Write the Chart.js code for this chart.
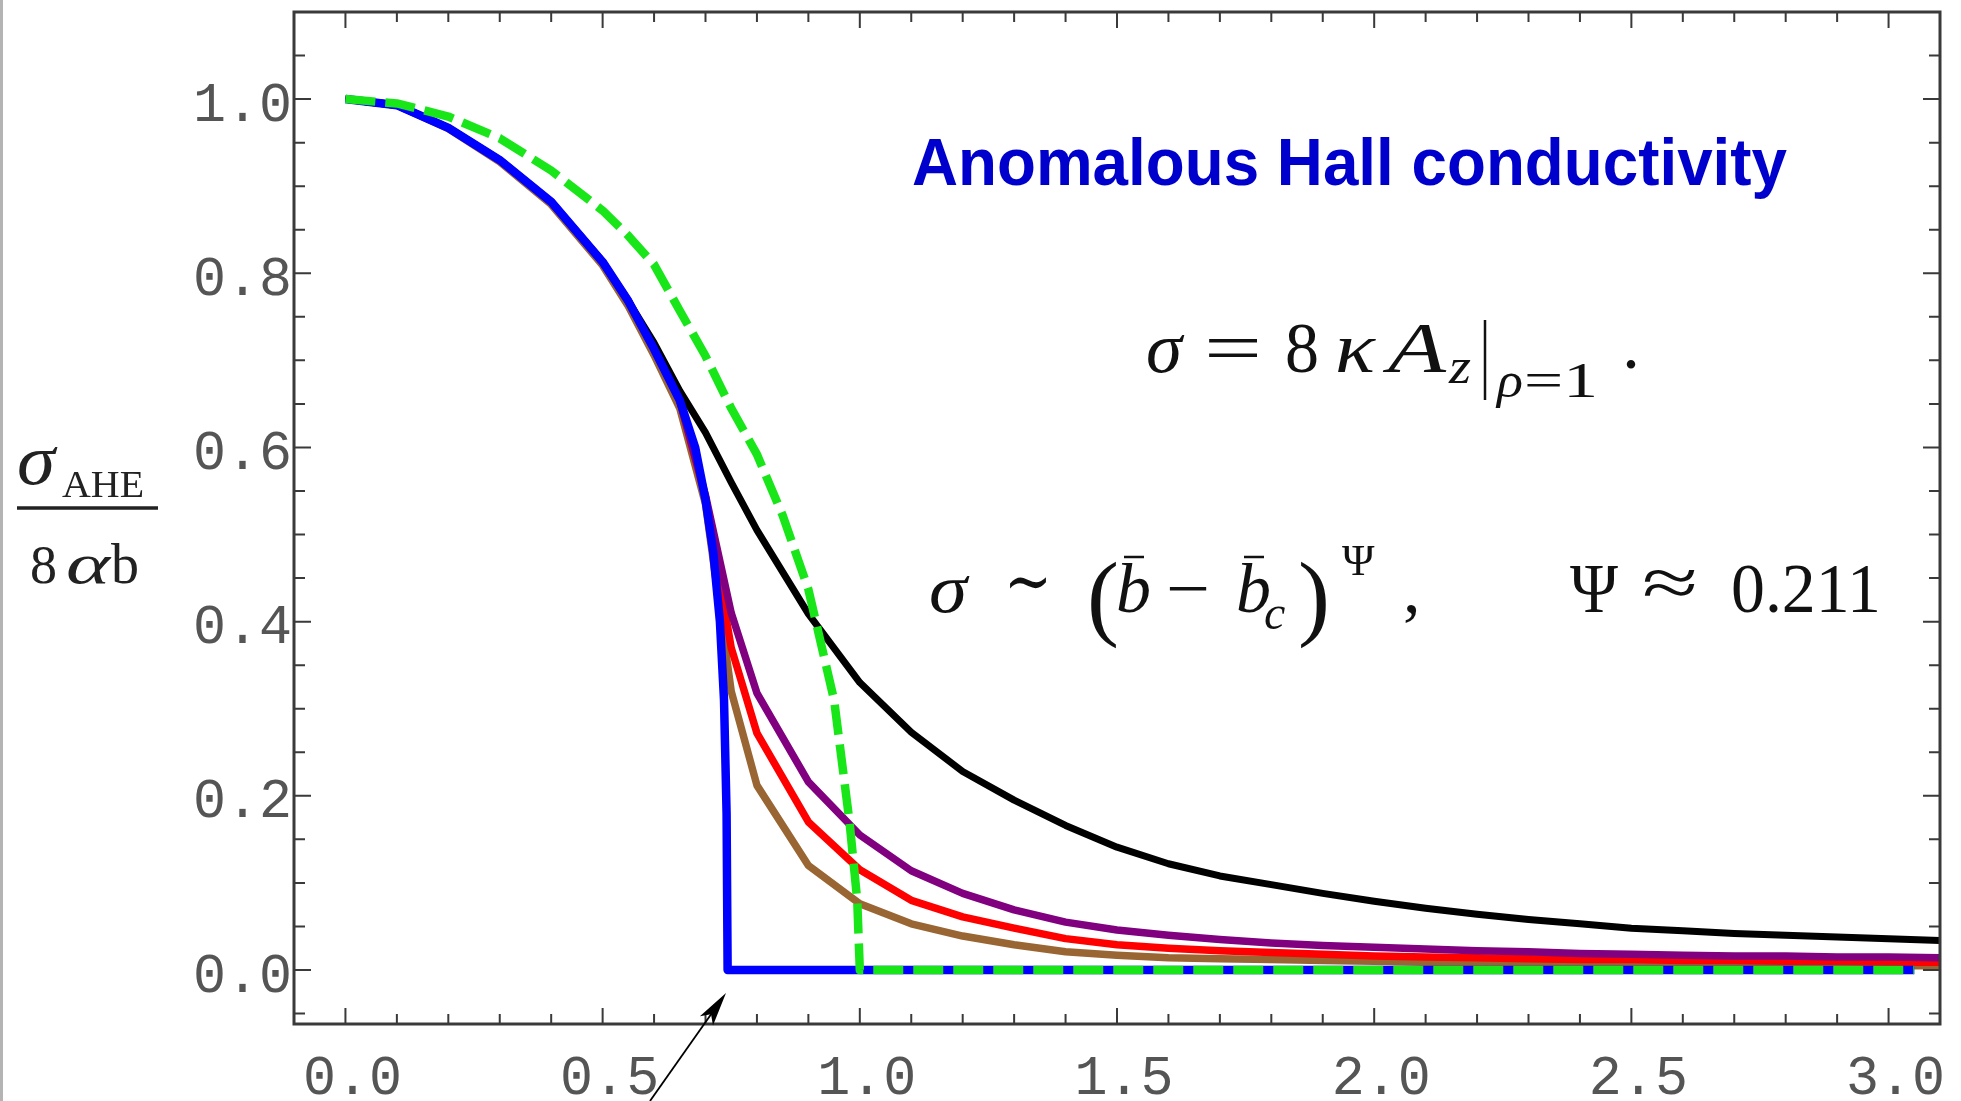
<!DOCTYPE html>
<html>
<head>
<meta charset="utf-8">
<title>Anomalous Hall conductivity</title>
<style>
  html, body { margin: 0; padding: 0; background: #fff; }
  canvas { display: block; }
</style>
</head>
<body>
<canvas id="ahe" width="1961" height="1101"></canvas>
<script src="https://cdn.jsdelivr.net/npm/chart.js@4/dist/chart.umd.min.js"></script>
<script>
// magnetic field b on the x axis, sigma_AHE / (8 alpha b) on the y axis
var bGrid = [0, 0.1, 0.2, 0.3, 0.4, 0.5, 0.55, 0.6, 0.65, 0.7, 0.75, 0.8, 0.9, 1.0, 1.1, 1.2, 1.3, 1.4, 1.5,
             1.6, 1.7, 1.8, 1.9, 2.0, 2.1, 2.2, 2.3, 2.4, 2.5, 2.6, 2.7, 2.8, 2.9, 3.0, 3.1];

var blackY  = [1.0, 0.993, 0.967, 0.93, 0.882, 0.813, 0.768, 0.72, 0.665, 0.617, 0.56, 0.505, 0.409, 0.33,
               0.273, 0.228, 0.195, 0.166, 0.141, 0.122, 0.108, 0.098, 0.088, 0.079, 0.071, 0.064, 0.058,
               0.053, 0.048, 0.045, 0.042, 0.040, 0.038, 0.036, 0.034];
var purpleY = [1.0, 0.993, 0.967, 0.93, 0.882, 0.813, 0.768, 0.713, 0.654, 0.545, 0.41, 0.318, 0.216, 0.155,
               0.114, 0.088, 0.069, 0.055, 0.046, 0.040, 0.035, 0.031, 0.028, 0.026, 0.024, 0.022, 0.021,
               0.019, 0.018, 0.017, 0.016, 0.016, 0.015, 0.015, 0.014];
var redY    = [1.0, 0.993, 0.967, 0.93, 0.882, 0.813, 0.768, 0.713, 0.654, 0.543, 0.37, 0.272, 0.17, 0.115,
               0.080, 0.061, 0.048, 0.036, 0.029, 0.025, 0.022, 0.020, 0.018, 0.016, 0.015, 0.014, 0.013,
               0.012, 0.012, 0.011, 0.011, 0.010, 0.010, 0.009, 0.009];
var brownY  = [1.0, 0.993, 0.966, 0.928, 0.879, 0.809, 0.762, 0.706, 0.645, 0.535, 0.32, 0.212, 0.12, 0.076,
               0.053, 0.039, 0.029, 0.021, 0.017, 0.014, 0.013, 0.012, 0.011, 0.010, 0.009, 0.009, 0.008,
               0.008, 0.007, 0.007, 0.006, 0.006, 0.006, 0.005, 0.005];

// sharp transition at b_c
var blueX = [0, 0.1, 0.2, 0.3, 0.4, 0.5, 0.55, 0.6, 0.65, 0.68, 0.7, 0.715, 0.728, 0.736, 0.741, 0.743, 3.05];
var blueY = [1.0, 0.993, 0.967, 0.93, 0.882, 0.813, 0.768, 0.713, 0.654, 0.6, 0.54, 0.48, 0.4, 0.31, 0.18, 0, 0];

// dashed reference curve, vanishing at b = 1
var greenX = [0, 0.1, 0.2, 0.3, 0.4, 0.5, 0.55, 0.6, 0.65, 0.7, 0.75, 0.8, 0.85, 0.9, 0.95, 0.98, 0.995, 1.0, 3.05];
var greenY = [1.0, 0.995, 0.98, 0.955, 0.918, 0.872, 0.843, 0.81, 0.757, 0.705, 0.645, 0.592, 0.522, 0.437, 0.31, 0.17, 0.08, 0, 0];

var xTicks = [0, 0.5, 1.0, 1.5, 2.0, 2.5, 3.0];
var yTicks = [0, 0.2, 0.4, 0.6, 0.8, 1.0];

function pts(xs, ys) {
    return xs.map(function(x, i) { return {x: x, y: ys[i]}; });
}

function curve(xs, ys, color, width, dash) {
    return {
        data: pts(xs, ys),
        borderColor: color,
        borderWidth: width,
        borderDash: dash || [],
        borderJoinStyle: 'round',
        pointRadius: 0,
        tension: 0,
        fill: false
    };
}

var serif = '"Liberation Serif", "DejaVu Serif", serif';

function put(ctx, s, x, y, size, italic) {
    ctx.font = (italic ? 'italic ' : '') + size + 'px ' + serif;
    ctx.fillText(s, x, y);
}

// same, but squeezed or stretched to a given width
function putW(ctx, s, x, y, size, italic, w) {
    ctx.font = (italic ? 'italic ' : '') + size + 'px ' + serif;
    var m = ctx.measureText(s).width;
    ctx.save();
    ctx.translate(x, y);
    ctx.scale(w / m, 1);
    ctx.fillText(s, 0, 0);
    ctx.restore();
}

function bar(ctx, x1, x2, y, w) {
    ctx.lineWidth = w;
    ctx.beginPath();
    ctx.moveTo(x1, y);
    ctx.lineTo(x2, y);
    ctx.stroke();
}

// frame with inward ticks on all four sides, plus the annotations
var framePlugin = {
    id: 'frame',
    afterDraw: function(chart) {
        var ctx = chart.ctx, a = chart.chartArea;
        var xs = chart.scales.x, ys = chart.scales.y;
        ctx.save();

        ctx.fillStyle = '#b4b4b4';
        ctx.fillRect(0, 0, 3, chart.height);

        ctx.strokeStyle = '#3a3a3a';
        ctx.lineWidth = 2;
        ctx.beginPath();
        for (var i = -1; i <= 31; i++) {
            var px = xs.getPixelForValue(i / 10);
            if (px < a.left - 1 || px > a.right + 1) continue;
            var len = (i % 5 === 0) ? 16 : 10;
            ctx.moveTo(px, a.bottom); ctx.lineTo(px, a.bottom - len);
            ctx.moveTo(px, a.top); ctx.lineTo(px, a.top + len);
        }
        for (var j = -1; j <= 22; j++) {
            var py = ys.getPixelForValue(j / 20);
            if (py < a.top - 1 || py > a.bottom + 1) continue;
            var l2 = (j % 4 === 0) ? 17 : 11;
            ctx.moveTo(a.left, py); ctx.lineTo(a.left + l2, py);
            ctx.moveTo(a.right, py); ctx.lineTo(a.right - l2, py);
        }
        ctx.stroke();

        ctx.lineWidth = 3;
        ctx.strokeRect(a.left, a.top, a.right - a.left, a.bottom - a.top);

        // title
        ctx.fillStyle = '#0000cc';
        ctx.font = 'bold 66px "Liberation Sans", Arial, sans-serif';
        ctx.textBaseline = 'alphabetic';
        var title = 'Anomalous Hall conductivity';
        var tw = ctx.measureText(title).width;
        ctx.save();
        ctx.translate(912, 185);
        ctx.scale(875 / tw, 1);
        ctx.fillText(title, 0, 0);
        ctx.restore();

        ctx.fillStyle = '#111';
        ctx.strokeStyle = '#111';

        // sigma = 8 kappa A_z |_{rho=1} .
        putW(ctx, 'σ', 1146, 372, 72, true, 36);
        putW(ctx, '=', 1204, 372, 72, false, 58);
        putW(ctx, '8', 1285, 372, 72, false, 34);
        putW(ctx, 'κ', 1335, 372, 72, true, 40);
        putW(ctx, 'A', 1388, 372, 72, true, 58);
        putW(ctx, 'z', 1449, 383, 50, true, 22);
        ctx.lineWidth = 2.5;
        ctx.beginPath(); ctx.moveTo(1485, 320); ctx.lineTo(1485, 400); ctx.stroke();
        putW(ctx, 'ρ', 1497, 397, 50, true, 26);
        putW(ctx, '=1', 1524, 397, 50, false, 74);
        put(ctx, '.', 1622, 368, 72, false);

        // sigma ~ (b - b_c)^Psi ,  Psi ~ 0.211
        putW(ctx, 'σ', 929, 612, 70, true, 38);
        putW(ctx, '∼', 1004, 605, 70, false, 48);
        put(ctx, '(', 1087, 628, 96, false);
        put(ctx, 'b', 1116, 612, 70, true);
        bar(ctx, 1124, 1144, 557, 2.5);
        putW(ctx, '−', 1166, 612, 70, false, 44);
        put(ctx, 'b', 1236, 612, 70, true);
        bar(ctx, 1244, 1264, 557, 2.5);
        put(ctx, 'c', 1264, 629, 48, true);
        put(ctx, ')', 1298, 628, 96, false);
        put(ctx, 'Ψ', 1342, 575, 44, false);
        put(ctx, ',', 1403, 612, 70, false);
        putW(ctx, 'Ψ', 1570, 612, 70, false, 48);
        putW(ctx, '≈', 1642, 606, 70, false, 56);
        putW(ctx, '0.211', 1731, 612, 70, false, 150);

        // y axis title: sigma_AHE over 8 alpha b
        ctx.fillStyle = '#222';
        ctx.strokeStyle = '#222';
        putW(ctx, 'σ', 17, 484, 72, true, 38);
        putW(ctx, 'AHE', 62, 497, 38, false, 82);
        bar(ctx, 17, 158, 508, 3.5);
        put(ctx, '8', 30, 583, 54, false);
        putW(ctx, 'α', 66, 583, 56, true, 44);
        put(ctx, 'b', 111, 583, 56, false);

        // arrow pointing at b_c
        ctx.fillStyle = '#000';
        ctx.strokeStyle = '#000';
        var tx = 726, ty = 993, sx = 650, sy = 1101;
        var ang = Math.atan2(ty - sy, tx - sx);
        ctx.lineWidth = 1.8;
        ctx.beginPath();
        ctx.moveTo(sx, sy);
        ctx.lineTo(tx - 25 * Math.cos(ang), ty - 25 * Math.sin(ang));
        ctx.stroke();
        ctx.beginPath();
        ctx.moveTo(tx, ty);
        ctx.lineTo(tx - 34 * Math.cos(ang) + 8 * Math.sin(ang), ty - 34 * Math.sin(ang) - 8 * Math.cos(ang));
        ctx.lineTo(tx - 26 * Math.cos(ang), ty - 26 * Math.sin(ang));
        ctx.lineTo(tx - 34 * Math.cos(ang) - 8 * Math.sin(ang), ty - 34 * Math.sin(ang) + 8 * Math.cos(ang));
        ctx.closePath();
        ctx.fill();

        ctx.restore();
    }
};

var tickFont = {family: '"Liberation Mono", "DejaVu Sans Mono", monospace', size: 55};

function noPad(s) {
    s.paddingTop = 0; s.paddingBottom = 0; s.paddingLeft = 0; s.paddingRight = 0;
}

var chart = new Chart(document.getElementById('ahe').getContext('2d'), {
    type: 'line',
    data: {
        datasets: [
            curve(greenX, greenY, 'rgb(25,230,25)', 8.5, [30, 10]),
            curve(blueX, blueY, 'rgb(0,0,255)', 8.5),
            curve(bGrid, blackY, 'rgb(0,0,0)', 7),
            curve(bGrid, purpleY, 'rgb(128,0,128)', 7.5),
            curve(bGrid, redY, 'rgb(255,0,0)', 7.5),
            curve(bGrid, brownY, 'rgb(153,102,51)', 7.5)
        ]
    },
    options: {
        responsive: false,
        animation: false,
        devicePixelRatio: 1,
        events: [],
        layout: {padding: {top: 12, right: 21, left: 0, bottom: 0}},
        plugins: {legend: {display: false}, tooltip: {enabled: false}},
        scales: {
            x: {
                type: 'linear',
                min: -0.1,
                max: 3.1,
                afterFit: function(s) { s.height = 77; noPad(s); },
                afterBuildTicks: function(s) { s.ticks = xTicks.map(function(v) { return {value: v}; }); },
                grid: {display: false, drawTicks: false},
                border: {display: false},
                ticks: {
                    font: tickFont,
                    color: '#555',
                    padding: 22,
                    labelOffset: 7,
                    maxRotation: 0,
                    autoSkip: false,
                    callback: function(v) { return v.toFixed(1); }
                }
            },
            y: {
                type: 'linear',
                min: -0.062,
                max: 1.1,
                afterFit: function(s) { s.width = 294; noPad(s); },
                afterBuildTicks: function(s) { s.ticks = yTicks.map(function(v) { return {value: v}; }); },
                grid: {display: false, drawTicks: false},
                border: {display: false},
                ticks: {
                    font: tickFont,
                    color: '#555',
                    padding: 2,
                    labelOffset: 7,
                    autoSkip: false,
                    callback: function(v) { return v.toFixed(1); }
                }
            }
        }
    },
    plugins: [framePlugin]
});
</script>
</body>
</html>
